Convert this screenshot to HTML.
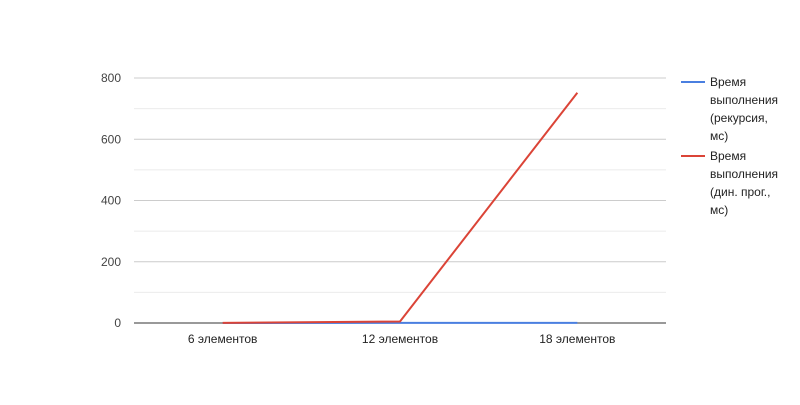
<!DOCTYPE html>
<html><head><meta charset="utf-8"><style>
body{margin:0;background:#fff;}
svg{font-family:"Liberation Sans",Arial,sans-serif;}
</style></head><body>
<svg width="800" height="400" id="c">
<rect width="800" height="400" fill="#fff"/>
<g id="grid"></g>
<g id="ylab"></g>
<g id="xlab"></g>
<g id="series"></g>
<g>
<g>
<line x1="681" y1="82" x2="705" y2="82" stroke="#4a7fe0" stroke-width="2"/>
<text x="710" y="86" font-size="12" fill="#222">Время</text>
<text x="710" y="104" font-size="12" fill="#222">выполнения</text>
<text x="710" y="122" font-size="12" fill="#222">(рекурсия,</text>
<text x="710" y="140" font-size="12" fill="#222">мс)</text>
</g>
<g>
<line x1="681" y1="156" x2="705" y2="156" stroke="#db4437" stroke-width="2"/>
<text x="710" y="160" font-size="12" fill="#222">Время</text>
<text x="710" y="178" font-size="12" fill="#222">выполнения</text>
<text x="710" y="196" font-size="12" fill="#222">(дин. прог.,</text>
<text x="710" y="214" font-size="12" fill="#222">мс)</text>
</g>
</g>
</svg>
<script>
const categories=["6 элементов","12 элементов","18 элементов"];
const recursion=[0.1,0.3,0.5];
const dp=[0.5,5,752];
const yTicks=[0,200,400,600,800];
const NS="http://www.w3.org/2000/svg";
const L=134,R=666,T=78,B=323,ymax=800;
const y=v=>B-(v/ymax)*(B-T);
const band=(R-L)/categories.length;
const x=i=>L+band*(i+0.5);
function mk(t,a,p){const e=document.createElementNS(NS,t);for(const k in a)e.setAttribute(k,a[k]);p.appendChild(e);return e;}
const g=document.getElementById('grid');
for(let i=0;i<yTicks.length;i++){
  const v=yTicks[i];
  if(i>0){const mv=(yTicks[i]+yTicks[i-1])/2;
    const m=mk('line',{x1:L,x2:R,y1:y(mv),y2:y(mv),stroke:'#ebebeb'},g);
    
    }
  const l=mk('line',{x1:L,x2:R,y1:y(v),y2:y(v),stroke:v===0?'#333':'#ccc'},g);
  
  
  const t=mk('text',{x:121,y:y(v)+4,'text-anchor':'end','font-size':12,fill:'#444'},document.getElementById('ylab'));
  t.textContent=v;
  
  
}
categories.forEach((c,i)=>{
  const t=mk('text',{x:x(i),y:343,'text-anchor':'middle','font-size':12,fill:'#222'},document.getElementById('xlab'));
  t.textContent=c;
  
  
});
const s=document.getElementById('series');
[[recursion,'#4a7fe0','line-recursion'],[dp,'#db4437','line-dp']].forEach(([d,col,n])=>{
  const p=mk('polyline',{points:d.map((v,i)=>x(i)+','+y(v)).join(' '),fill:'none',stroke:col,'stroke-width':2},s);
  
  
});
</script>
</body></html>
